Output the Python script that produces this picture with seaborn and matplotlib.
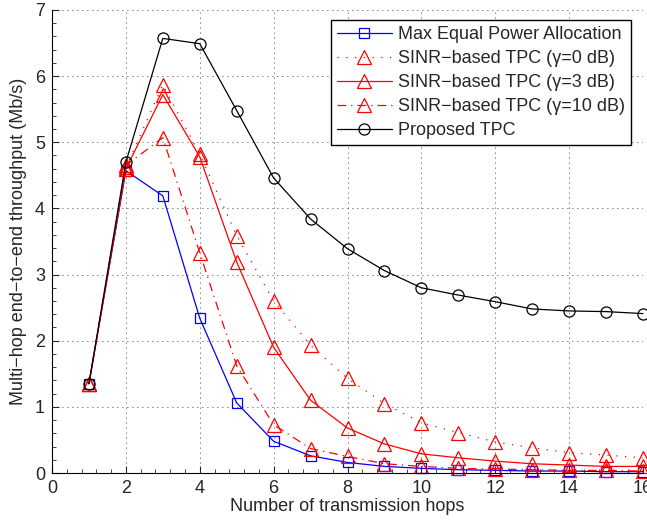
import matplotlib
matplotlib.use('Agg')
import matplotlib.pyplot as plt
from matplotlib.ticker import MultipleLocator
import seaborn as sns
import numpy as np
import pandas as pd

hops = list(range(1, 17))

max_equal = [1.35, 4.57, 4.19, 2.34, 1.06, 0.48, 0.26, 0.16, 0.10, 0.07,
             0.05, 0.04, 0.03, 0.03, 0.02, 0.02]
sinr_0db = [1.35, 4.62, 5.87, 4.82, 3.59, 2.60, 1.93, 1.43, 1.05, 0.76,
            0.61, 0.47, 0.38, 0.31, 0.27, 0.23]
sinr_3db = [1.35, 4.60, 5.72, 4.78, 3.19, 1.90, 1.10, 0.68, 0.44, 0.29,
            0.23, 0.18, 0.14, 0.12, 0.10, 0.10]
sinr_10db = [1.35, 4.65, 5.07, 3.33, 1.62, 0.73, 0.37, 0.25, 0.14, 0.10,
             0.07, 0.06, 0.05, 0.04, 0.04, 0.03]
proposed = [1.35, 4.70, 6.57, 6.49, 5.48, 4.46, 3.84, 3.39, 3.06, 2.80,
            2.69, 2.59, 2.48, 2.45, 2.44, 2.41]

labels = ['Max Equal Power Allocation',
          'SINR\u2212based TPC (\u03b3=0 dB)',
          'SINR\u2212based TPC (\u03b3=3 dB)',
          'SINR\u2212based TPC (\u03b3=10 dB)',
          'Proposed TPC']

sns.set_style('white')
plt.rcParams['font.family'] = ['Liberation Sans', 'DejaVu Sans']

fig = plt.figure(figsize=(6.47, 5.24), dpi=100)
ax = fig.add_axes([0.0804, 0.0973, 0.9134, 0.8837])

# (values, color, linestyle, marker, markersize)
series = [
    (max_equal, 'blue', '-', 's', 6.5),
    (sinr_0db, 'red', (0, (1, 6)), '^', 10.5),
    (sinr_3db, 'red', '-', '^', 10.5),
    (sinr_10db, 'red', (0, (7, 4, 1, 4)), '^', 10.5),
    (proposed, 'black', '-', 'o', 8),
]

for (vals, col, ls, mk, ms), lab in zip(series, labels):
    sns.lineplot(x=hops, y=vals, ax=ax, color=col, linestyle=ls, linewidth=0.9,
                 marker=mk, markersize=ms, markerfacecolor='none',
                 markeredgecolor=col, markeredgewidth=0.9, label=lab, clip_on=False)

ax.set_xlim(0, 16)
ax.set_ylim(0, 7)
ax.xaxis.set_major_locator(MultipleLocator(2))
ax.xaxis.set_minor_locator(MultipleLocator(0.4))
ax.yaxis.set_major_locator(MultipleLocator(1))
ax.yaxis.set_minor_locator(MultipleLocator(0.2))
ax.tick_params(which='both', direction='in', bottom=True, left=True, labelsize=13)
ax.tick_params(which='major', length=5, pad=5)
ax.tick_params(which='minor', length=3)
ax.grid(True, which='major', color='black', linestyle=(0, (1, 5)), linewidth=0.6)

for s in ['top', 'right']:
    ax.spines[s].set_visible(False)
for s in ['left', 'bottom']:
    ax.spines[s].set_color('black')
    ax.spines[s].set_linewidth(0.8)

ax.set_xlabel('Number of transmission hops', fontsize=13, labelpad=1)
ax.set_ylabel('Multi\u2212hop end\u2212to\u2212end throughput (Mb/s)', fontsize=13, labelpad=6)

leg = ax.legend(loc='upper right', bbox_to_anchor=(0.980, 0.978), fontsize=13,
                frameon=True, fancybox=False, edgecolor='black', framealpha=1,
                handlelength=3.0, handletextpad=0.35, borderpad=0.35, labelspacing=0.38,
                borderaxespad=0)
leg.get_frame().set_linewidth(1.0)

fig.savefig('out.png', dpi=100)
